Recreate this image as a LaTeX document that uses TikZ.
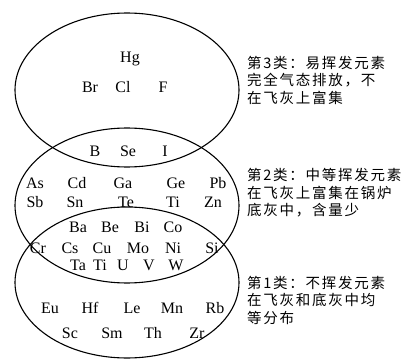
\documentclass[tikz,border=0pt]{standalone}
\usepackage{fontspec}
\setmainfont{Liberation Serif}
\newfontfamily\cjk[LetterSpace=12]{Noto Sans CJK SC}
\usepackage{tikz}
\usetikzlibrary{positioning, shapes.geometric}

\begin{document}
\begin{tikzpicture}[x=1pt, y=1pt,
    elem/.style={inner sep=0pt, font=\fontsize{16}{16}\selectfont},
    group/.style={ellipse, draw, line width=1.1pt, inner sep=0pt, minimum width=224pt},
    note/.style={anchor=west, inner sep=0pt, align=left, font=\fontsize{14.5}{17.5}\cjk}]
    \useasboundingbox (0,0) rectangle (408,360);
    % Define the three classes
    \node[group, minimum height=154pt](cls3) at (127,270){};
    \node[group, minimum height=155pt](cls2) at (127,154.5){};
    \node[group, minimum height=151pt](cls1) at (127,77.5){};
    % class 3
    \node[elem](hg) at (130,301){Hg};
    \node[elem](br) at (90,273){Br};
    \node[elem](cl) at (123,273){Cl};
    \node[elem](f) at (163,273){F};
    % class 3 and 2
    \node[elem](b) at (95,209){B};
    \node[elem](se) at (128,209){Se};
    \node[elem](i) at (165,209){I};
    % class 2
    \node[elem](as) at (35,177){As};
    \node[elem](cd) at (77,177){Cd};
    \node[elem](ga) at (123,177){Ga};
    \node[elem](ge) at (176,177){Ge};
    \node[elem](pb) at (218,177){Pb};
    \node[elem](sb) at (35,158){Sb};
    \node[elem](sn) at (75,158){Sn};
    \node[elem](te) at (126,158){Te};
    \node[elem](ti1) at (173,158){Ti};
    \node[elem](zn) at (213,158){Zn};
    % class 2 and 1
    \node[elem](ba) at (78,133){Ba};
    \node[elem](be) at (110,133){Be};
    \node[elem](bi) at (142,133){Bi};
    \node[elem](co) at (173,133){Co};
    \node[elem](cr) at (38,112){Cr};
    \node[elem](cs) at (70,112){Cs};
    \node[elem](cu) at (102,112){Cu};
    \node[elem](mo) at (138,112){Mo};
    \node[elem](ni) at (173,112){Ni};
    \node[elem](si) at (212,112){Si};
    \node[elem](ta) at (78,95){Ta};
    \node[elem](ti2) at (100,95){Ti};
    \node[elem](u) at (123,95){U};
    \node[elem](v) at (149,95){V};
    \node[elem](w) at (176,95){W};
    % class 1
    \node[elem](eu) at (50,52){Eu};
    \node[elem](hf) at (90,52){Hf};
    \node[elem](le) at (132,52){Le};
    \node[elem](mn) at (172,52){Mn};
    \node[elem](rb) at (215,52){Rb};
    \node[elem](sc) at (70,27){Sc};
    \node[elem](sm) at (112,27){Sm};
    \node[elem](th) at (153,27){Th};
    \node[elem](zr) at (197,27){Zr};
    % notes
    \node[note](note3) at (247,280){第3类：易挥发元素\\完全气态排放，不\\在飞灰上富集};
    \node[note](note2) at (247,167){第2类：中等挥发元素\\在飞灰上富集在锅炉\\底灰中，含量少};
    \node[note](note1) at (247,60){第1类：不挥发元素\\在飞灰和底灰中均\\等分布};
\end{tikzpicture}
\end{document}
